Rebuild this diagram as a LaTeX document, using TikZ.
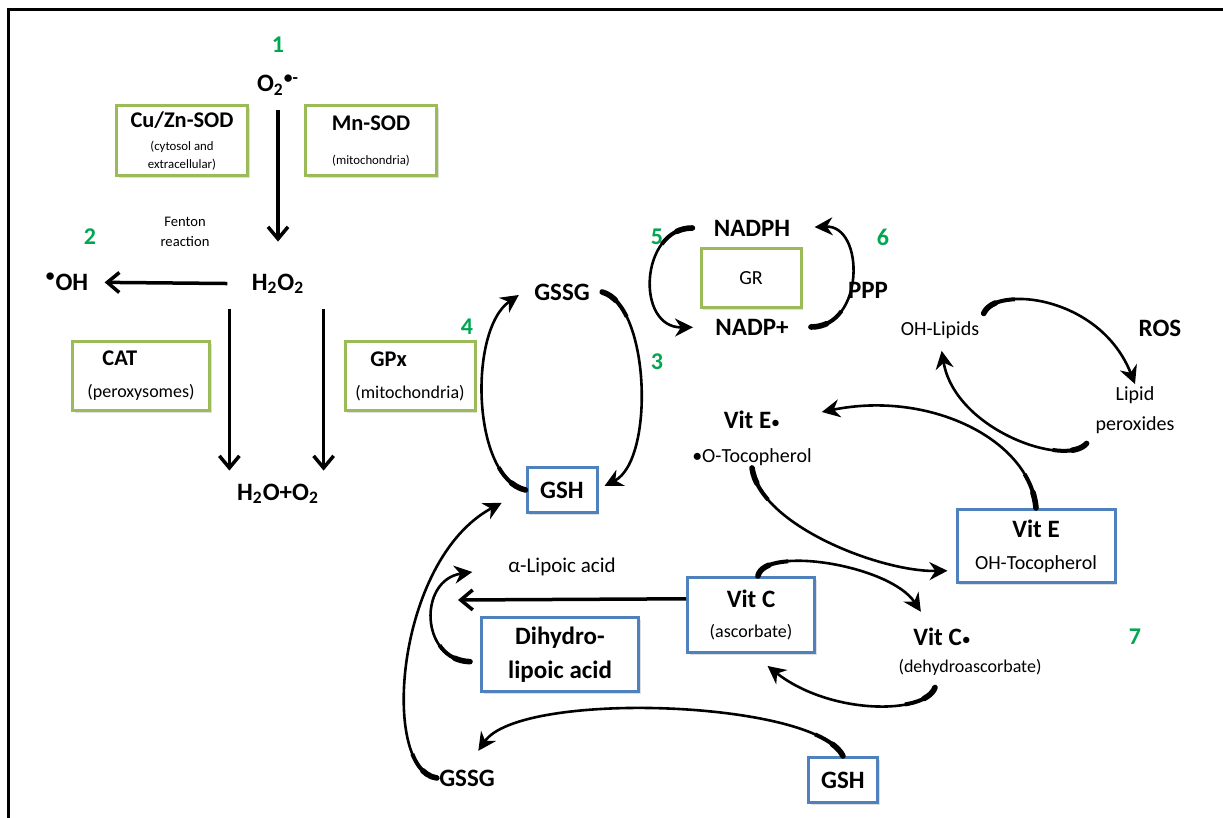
\documentclass[tikz,border=0pt]{standalone}
\usepackage{fontspec}
\setmainfont{Carlito}
\usetikzlibrary{arrows.meta,shadows}

\newdimen\pxu \pxu=0.5pt
\definecolor{boxgreen}{HTML}{9BBB59}
\definecolor{boxblue}{HTML}{4F81BD}
\definecolor{numgreen}{HTML}{00A651}

\newcommand\fnum{\fontsize{12}{14}\selectfont\bfseries}
\newcommand\fbig{\fontsize{12.5}{15}\selectfont\bfseries}
\newcommand\ftitle{\fontsize{11.2}{13}\selectfont\bfseries}
\newcommand\fmed{\fontsize{10}{12}\selectfont}
\newcommand\fpar{\fontsize{9}{11}\selectfont}
\newcommand\fsmall{\fontsize{7.3}{10}\selectfont}
\newcommand\ftiny{\fontsize{6.4}{9}\selectfont}
\newcommand\raddot{{\fpar\mdseries\textbullet}}

\tikzset{
  greenbox/.style={draw=boxgreen, line width=3\pxu, fill=white, inner sep=0pt, align=center,
    drop shadow={opacity=.25, shadow xshift=1.2pt, shadow yshift=-1.2pt}},
  bluebox/.style={draw=boxblue, line width=3\pxu, fill=white, inner sep=0pt, align=center,
    drop shadow={opacity=.25, shadow xshift=1.2pt, shadow yshift=-1.2pt}},
  harrow/.style={-{Straight Barb[length=6pt,width=10pt]}, line width=3.5\pxu},
  carrow/.style={-{Stealth[length=9pt,width=9pt]}, line width=2.6\pxu,
    preaction={draw, arrows=-, line width=4\pxu, dash pattern=on 18pt off 2000pt},
    preaction={draw, arrows=-, line width=5.6\pxu, line cap=round, dash pattern=on 8pt off 2000pt}}
}

\begin{document}
\begin{tikzpicture}[x=\pxu, y=-\pxu]

        \useasboundingbox (0,0) rectangle (1223,818);
        \draw[line width=3\pxu] (1223,10) -- (8,10) -- (8,818);

        \begin{scope}[every node/.style={text=numgreen, font=\fnum}]
          \node (n1) at (278,45)   {1};
          \node (n2) at (90,237)   {2};
          \node (n3) at (657,362)  {3};
          \node (n4) at (467,327)  {4};
          \node (n5) at (657,237)  {5};
          \node (n6) at (883,237)  {6};
          \node (n7) at (1135,637) {7};
        \end{scope}

        \begin{scope}[every node/.style={font=\fbig, inner sep=2\pxu}]
          \node (o2)      at (278,85)   {O\textsubscript{2}\textsuperscript{\textbullet-}};
          \node (h2o2)    at (278,284)  {H\textsubscript{2}O\textsubscript{2}};
          \node (oh)      at (67,282)   {\textsuperscript{\textbullet}OH};
          \node (prod)    at (278,494)  {H\textsubscript{2}O+O\textsubscript{2}};
          \node (gssga)   at (562,292)  {GSSG};
          \node (nadph)   at (752,228)  {NADPH};
          \node (nadp)    at (752,327)  {NADP+};
          \node (ppp)     at (868,290)  {PPP};
          \node (ros)     at (1160,328) {ROS};
          \node (vitedot) at (752,420)  {Vit E\raddot};
          \node (vitcdot) at (942,637)  {Vit C\raddot};
          \node (gssgb)   at (467,778)  {GSSG};
        \end{scope}

        \begin{scope}[every node/.style={font=\fmed, inner sep=2\pxu, align=center}]
          \node (fenton) at (185,232)  [font=\fsmall] {Fenton\\reaction};
          \node (ohlip)  at (940,330)  {OH-Lipids};
          \node (lipox)  at (1135,410) {Lipid\\[3pt]peroxides};
          \node (otoc)   at (752,457)  {\textbullet O-Tocopherol};
          \node (alip)   at (562,567)  [font=\fontsize{10.5}{12}\selectfont] {α-Lipoic acid};
          \node (dha)    at (970,667)  [font=\fpar] {(dehydroascorbate)};
        \end{scope}

        \begin{scope}[every node/.style={greenbox}]
          \node (cuzn)  at (182,141)   [minimum width=131\pxu, minimum height=70\pxu, font=\ftiny]
            {{\ftitle Cu/Zn-SOD}\\[2.5pt](cytosol and\\extracellular)};
          \node (mnsod) at (371,141)   [minimum width=131\pxu, minimum height=70\pxu, font=\ftiny]
            {{\ftitle Mn-SOD}\\[8pt](mitochondria)};
          \node (cat)   at (141,376)   [minimum width=137\pxu, minimum height=69\pxu, font=\fpar, align=left]
            {\hspace*{7.5pt}{\ftitle CAT}\\[5pt](peroxysomes)};
          \node (gpx)   at (410,376)   [minimum width=130\pxu, minimum height=69\pxu, font=\fpar, align=left]
            {\hspace*{7.5pt}{\ftitle GPx}\\[5pt](mitochondria)};
          \node (gr)    at (751,278)   [minimum width=100\pxu, minimum height=59\pxu, font=\fmed] {GR};
        \end{scope}

        \begin{scope}[every node/.style={bluebox}]
          \node (gsha)    at (562,490)   [minimum width=70\pxu, minimum height=45\pxu, font=\fbig] {GSH};
          \node (gshb)    at (843,780)   [minimum width=69\pxu, minimum height=45\pxu, font=\fbig] {GSH};
          \node (vite)    at (1036,546)  [minimum width=158\pxu, minimum height=73\pxu, font=\fmed]
            {{\fbig Vit E}\\[4pt]OH-Tocopherol};
          \node (vitc)    at (751,615)   [minimum width=127\pxu, minimum height=75\pxu, font=\fpar]
            {{\fbig Vit C}\\[4pt](ascorbate)};
          \node (dihydro) at (560,655)   [minimum width=157\pxu, minimum height=74\pxu, font=\fbig]
            {Dihydro-\\[2pt]lipoic acid};
        \end{scope}

        \coordinate (lipin) at (458,600);

        \begin{scope}[every edge/.style={draw, harrow}]
          \path (o2)   edge [shorten <=6pt, shorten >=15pt] (h2o2);
          \path (h2o2) edge [shorten <=11pt, shorten >=7pt] (oh);
          \path ([xshift=-10pt,yshift=-6.5pt]h2o2.south west)
                edge ([xshift=-10pt,yshift=5.5pt]h2o2.south west |- prod.north);
          \path ([xshift=8.5pt,yshift=-6.5pt]h2o2.south east)
                edge ([xshift=8.5pt,yshift=5.5pt]h2o2.south east |- prod.north);
          \path (vitc.166) edge (lipin);
        \end{scope}

        \draw [carrow] (gsha.west) .. controls (472,478) and (468,330) .. ([xshift=-6.5pt,yshift=-1.5pt]gssga.west);
        \draw [carrow] ([xshift=5pt]gssga.east) .. controls (650,305) and (655,460) .. ([xshift=3pt,yshift=2pt]gsha.east);
        \draw [carrow, shorten <=9.5pt, shorten >=10pt] (nadph.west) .. controls (640,228) and (635,328) .. (nadp.west);
        \draw [carrow, shorten <=10pt, shorten >=11pt] (nadp.east) .. controls (865,327) and (865,225) .. (nadph.east);
        \draw [carrow, shorten <=3pt] (ohlip.north east) .. controls (995,285) and (1100,295) .. (lipox.north);
        \draw [carrow, shorten <=5pt, shorten >=5pt] (lipox.south west) .. controls (1065,468) and (955,430) .. (ohlip.south);
        \draw [carrow, shorten >=20pt] (vite.north) .. controls (1030,440) and (930,390) .. (vitedot.east);
        \draw [carrow, shorten >=4pt] (otoc.south) .. controls (760,525) and (880,572) .. (vite.197);
        \draw [carrow, shorten <=5pt, shorten >=17pt] (dihydro.185) .. controls (420,660) and (418,580) .. (alip.west);
        \draw [carrow, shorten >=13.5pt] (gssgb.west) .. controls (380,770) and (395,560) .. (gsha.west);
        \draw [carrow, shorten >=10pt] (gshb.north) .. controls (815,700) and (520,690) .. (gssgb.north);
        \draw [carrow] (vitc.80) .. controls (765,545) and (890,565) .. ([xshift=5pt,yshift=7pt]vitcdot.north west);
        \draw [carrow] ([xshift=-17.5pt,yshift=-5pt]dha.south) .. controls (925,715) and (830,715) .. ([yshift=-6pt]vitc.-67);

      \end{tikzpicture}
\end{document}
